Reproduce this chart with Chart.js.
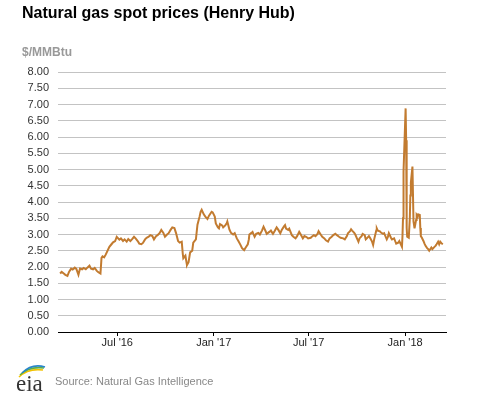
<!DOCTYPE html>
<html>
<head>
<meta charset="utf-8">
<script src="https://cdn.jsdelivr.net/npm/chart.js@4.4.0/dist/chart.umd.min.js"></script>
<style>
  body { margin: 0; background: #fff; font-family: "Liberation Sans", Arial, sans-serif; }
  #wrap { position: relative; width: 477px; height: 393px; overflow: hidden; }
  #chart { position: absolute; left: 0; top: 0; }
  .title { position: absolute; left: 22px; top: 5px; font-size: 16px; line-height: 16px; font-weight: bold; color: #000; white-space: nowrap; }
  .units { position: absolute; left: 22px; top: 46px; font-size: 12px; line-height: 12px; font-weight: bold; color: #999; white-space: nowrap; }
  .source { position: absolute; left: 55px; top: 376px; font-size: 11px; line-height: 11px; color: #888; white-space: nowrap; }
  .logo { position: absolute; left: 14px; top: 362px; }
</style>
</head>
<body>
<div id="wrap">
  <canvas id="chart" width="477" height="393"></canvas>
  <div class="title">Natural gas spot prices (Henry Hub)</div>
  <div class="units">$/MMBtu</div>
  <svg class="logo" width="34" height="31" viewBox="0 0 34 31">
    <path d="M5 15 Q 14 6 29 8" stroke="#f2c200" stroke-width="1.6" fill="none"/>
    <path d="M6 13 Q 15 4 30 6" stroke="#5fae45" stroke-width="1.6" fill="none"/>
    <path d="M8 11 Q 18 1 31 5" stroke="#2a86c8" stroke-width="1.6" fill="none"/>
    <text x="2" y="29" font-family="Liberation Serif, serif" font-size="23" fill="#333">eia</text>
  </svg>
  <div class="source">Source: Natural Gas Intelligence</div>
</div>
<script>
// Henry Hub spot price, $/MMBtu
const dates = [
  '2016-03-14','2016-03-17','2016-03-21','2016-03-24','2016-03-28','2016-03-31',
  '2016-04-04','2016-04-07','2016-04-11','2016-04-14','2016-04-18','2016-04-21','2016-04-25','2016-04-28',
  '2016-05-02','2016-05-05','2016-05-09','2016-05-12','2016-05-16','2016-05-19','2016-05-23','2016-05-26','2016-05-30',
  '2016-06-01','2016-06-03','2016-06-06','2016-06-09','2016-06-13','2016-06-16','2016-06-20','2016-06-23','2016-06-27','2016-06-30',
  '2016-07-05','2016-07-08','2016-07-12','2016-07-15','2016-07-19','2016-07-22','2016-07-26','2016-07-29',
  '2016-08-02','2016-08-05','2016-08-09','2016-08-12','2016-08-16','2016-08-19','2016-08-23','2016-08-26','2016-08-30',
  '2016-09-02','2016-09-06','2016-09-09','2016-09-13','2016-09-16','2016-09-20','2016-09-23','2016-09-27','2016-09-30',
  '2016-10-04','2016-10-07','2016-10-11','2016-10-14','2016-10-18','2016-10-21','2016-10-25','2016-10-28',
  '2016-11-01','2016-11-03','2016-11-04','2016-11-08','2016-11-10','2016-11-11','2016-11-14','2016-11-17','2016-11-21','2016-11-23','2016-11-28',
  '2016-12-01','2016-12-05','2016-12-07','2016-12-09','2016-12-13','2016-12-16','2016-12-20','2016-12-23','2016-12-28','2016-12-30',
  '2017-01-03','2017-01-05','2017-01-09','2017-01-11','2017-01-13','2017-01-17','2017-01-19','2017-01-23','2017-01-26','2017-01-27','2017-01-31',
  '2017-02-03','2017-02-07','2017-02-10','2017-02-14','2017-02-17','2017-02-21','2017-02-24','2017-02-28',
  '2017-03-03','2017-03-07','2017-03-09','2017-03-10','2017-03-14','2017-03-16','2017-03-20','2017-03-23','2017-03-27','2017-03-30',
  '2017-04-03','2017-04-06','2017-04-10','2017-04-12','2017-04-17','2017-04-20','2017-04-24','2017-04-27',
  '2017-05-01','2017-05-04','2017-05-08','2017-05-11','2017-05-15','2017-05-17','2017-05-19','2017-05-23','2017-05-25','2017-05-30',
  '2017-06-02','2017-06-06','2017-06-09','2017-06-13','2017-06-16','2017-06-20','2017-06-23','2017-06-27','2017-06-30',
  '2017-07-05','2017-07-07','2017-07-11','2017-07-14','2017-07-18','2017-07-20','2017-07-24','2017-07-27','2017-07-31',
  '2017-08-03','2017-08-07','2017-08-10','2017-08-14','2017-08-17','2017-08-21','2017-08-24','2017-08-28','2017-08-31',
  '2017-09-05','2017-09-08','2017-09-12','2017-09-14','2017-09-18','2017-09-20','2017-09-22','2017-09-26','2017-09-28',
  '2017-10-02','2017-10-04','2017-10-06','2017-10-10','2017-10-12','2017-10-16','2017-10-18','2017-10-20','2017-10-24','2017-10-26','2017-10-30',
  '2017-11-01','2017-11-03','2017-11-07','2017-11-08','2017-11-10','2017-11-14','2017-11-16','2017-11-20','2017-11-22','2017-11-27','2017-11-29',
  '2017-12-01','2017-12-05','2017-12-07','2017-12-11','2017-12-13','2017-12-15','2017-12-19','2017-12-21','2017-12-26','2017-12-27','2017-12-28','2017-12-29',
  '2018-01-02','2018-01-03','2018-01-04','2018-01-05','2018-01-08','2018-01-10','2018-01-11','2018-01-12','2018-01-15','2018-01-17','2018-01-18','2018-01-19',
  '2018-01-22','2018-01-23','2018-01-25','2018-01-26','2018-01-29','2018-01-30','2018-01-31',
  '2018-02-02','2018-02-05','2018-02-07','2018-02-09','2018-02-12','2018-02-14','2018-02-16','2018-02-20','2018-02-22','2018-02-26','2018-02-28',
  '2018-03-02','2018-03-05','2018-03-07','2018-03-09','2018-03-12','2018-03-14'
];
const prices = [
  1.80,1.85,1.80,1.76,1.73,1.85,
  1.95,1.92,1.98,1.94,1.76,1.95,1.93,1.97,
  1.93,1.98,2.04,1.95,1.93,1.97,1.88,1.84,1.80,
  2.28,2.33,2.30,2.38,2.52,2.62,2.70,2.76,2.80,2.93,
  2.84,2.88,2.80,2.85,2.78,2.86,2.80,2.85,
  2.93,2.88,2.80,2.72,2.70,2.74,2.85,2.90,2.93,
  2.98,2.95,2.85,2.95,2.98,3.05,3.14,3.05,2.93,
  3.00,3.04,3.15,3.22,3.20,3.05,2.80,2.75,
  2.78,2.40,2.27,2.35,2.15,2.06,2.15,2.45,2.50,2.75,2.85,
  3.30,3.55,3.70,3.76,3.62,3.55,3.48,3.58,3.70,3.68,
  3.55,3.34,3.22,3.19,3.32,3.28,3.22,3.28,3.35,3.40,3.15,
  3.05,3.00,3.04,2.88,2.80,2.68,2.58,2.52,
  2.60,2.70,2.85,3.00,3.05,3.08,2.93,3.02,3.05,3.00,
  3.12,3.24,3.10,3.02,3.08,3.12,3.02,3.10,
  3.22,3.15,3.04,3.15,3.25,3.29,3.18,3.14,3.18,2.98,
  2.93,2.88,2.95,3.08,3.00,2.88,2.95,2.92,2.88,
  2.90,2.93,2.98,2.95,3.02,3.10,3.00,2.93,2.88,
  2.82,2.78,2.88,2.93,2.98,3.02,2.98,2.93,2.90,
  2.88,2.85,2.95,3.04,3.10,3.16,3.12,3.05,3.00,
  2.85,2.78,2.88,2.95,3.02,2.98,2.85,2.88,2.95,2.90,2.78,
  2.68,2.85,3.12,3.19,3.12,3.10,3.06,3.02,3.04,2.85,2.92,
  3.04,2.90,2.85,2.88,2.80,2.72,2.75,2.80,2.62,2.95,3.50,4.93,
  6.88,5.90,3.20,2.93,2.90,3.50,4.20,4.60,5.09,3.40,3.30,3.19,
  3.45,3.60,3.55,3.62,3.60,3.20,2.95,
  2.90,2.80,2.72,2.65,2.58,2.55,2.50,2.60,2.55,2.62,2.65,
  2.70,2.78,2.70,2.78,2.72,2.70
];
const tickDates = ['2016-07-01', '2017-01-01', '2017-07-01', '2018-01-01'];
const tickLabels = ["Jul '16", "Jan '17", "Jul '17", "Jan '18"];
const axisStart = '2016-03-10';
const axisEnd = '2018-03-20';

const FONT = '"Liberation Sans", Arial, sans-serif';
const dayNum = d => Date.parse(d + 'T00:00:00Z') / 86400000;

const ctx = document.getElementById('chart');
new Chart(ctx, {
  type: 'line',
  data: {
    datasets: [{
      label: 'Henry Hub',
      data: dates.map((d, i) => ({ x: dayNum(d), y: prices[i] })),
      borderColor: '#c27b30',
      borderWidth: 2,
      pointRadius: 0,
      tension: 0,
      fill: false
    }]
  },
  options: {
    responsive: false,
    animation: false,
    layout: { padding: { top: 72, right: 31, bottom: 0, left: 0 } },
    plugins: { legend: { display: false }, tooltip: { enabled: false } },
    scales: {
      x: {
        type: 'linear',
        min: dayNum(axisStart),
        max: dayNum(axisEnd),
        afterBuildTicks: scale => { scale.ticks = tickDates.map(d => ({ value: dayNum(d) })); },
        afterFit: scale => { scale.height = 61; },
        grid: { drawOnChartArea: false, drawTicks: true, tickLength: 4, color: '#000' },
        border: { color: '#000', width: 1 },
        ticks: {
          autoSkip: false, maxRotation: 0, padding: 0,
          color: '#222', font: { family: FONT, size: 11 },
          callback: (v, i) => tickLabels[i]
        }
      },
      y: {
        min: 0, max: 8,
        afterFit: scale => { scale.width = 58; },
        grid: { color: '#c3c3c3', drawTicks: false },
        border: { display: false },
        ticks: {
          stepSize: 0.5, padding: 9,
          color: '#333', font: { family: FONT, size: 11 },
          callback: v => v.toFixed(2)
        }
      }
    }
  }
});
</script>
</body>
</html>
